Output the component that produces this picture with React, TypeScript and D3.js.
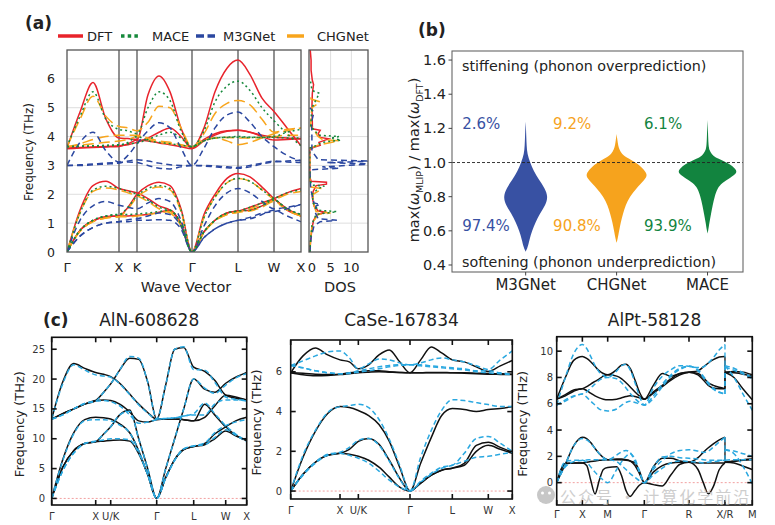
import React from "react";
import * as d3 from "d3";

const FONT = "DejaVu Sans, Verdana, sans-serif";

// ---------- (a) phonon bands, path Γ-X-K-Γ-L-W-X ----------
const kA = [0, 13, 26, 39, 52, 61, 70, 81, 92, 103, 114, 125, 137, 148, 160, 171, 183, 195, 207, 220, 234];
const symA = [0, 52, 70, 125, 171, 207, 234];
const symLabelsA = ["Γ", "X", "K", "Γ", "L", "W", "X"];

const bandsDFT = [
  [3.6, 4.85, 5.87, 4.6, 3.95, 3.93, 3.9, 5.45, 6.1, 5.55, 4.3, 3.6, 4.3, 5.55, 6.37, 6.65, 6.15, 5.33, 4.87, 4.3, 3.68],
  [3.6, 3.62, 3.64, 3.66, 3.68, 3.72, 3.8, 3.95, 4.15, 4.3, 4.0, 3.6, 3.9, 4.1, 4.2, 4.22, 4.15, 4.05, 3.98, 3.95, 3.93],
  [3.58, 3.6, 3.62, 3.64, 3.66, 3.75, 3.88, 3.85, 3.78, 3.72, 3.65, 3.58, 3.85, 4.05, 4.18, 4.22, 4.15, 4.0, 3.88, 3.9, 3.92],
  [0, 1.45, 2.3, 2.45, 2.2, 2.12, 2.05, 1.85, 1.6, 1.45, 1.0, 0, 1.3, 2.0, 2.55, 2.72, 2.6, 2.25, 1.85, 1.5, 1.25],
  [0, 0.75, 1.08, 1.22, 1.25, 1.55, 2.0, 2.3, 2.42, 2.3, 1.5, 0, 0.7, 1.1, 1.35, 1.42, 1.55, 1.7, 1.85, 2.05, 2.2],
  [0, 0.75, 1.08, 1.22, 1.25, 1.25, 1.27, 1.3, 1.38, 1.45, 0.95, 0, 0.7, 1.1, 1.35, 1.42, 1.45, 1.6, 1.8, 1.45, 1.25],
];
const bandsMACE = [
  [3.65, 4.7, 5.55, 4.6, 4.25, 4.2, 4.1, 5.0, 5.55, 5.25, 4.2, 3.65, 4.2, 5.2, 5.75, 5.92, 5.6, 5.0, 4.55, 4.1, 3.68],
  [3.65, 3.67, 3.68, 3.7, 3.72, 3.75, 3.78, 3.9, 4.05, 4.15, 3.95, 3.65, 3.85, 3.95, 3.98, 4.0, 3.98, 3.97, 4.0, 4.15, 4.25],
  [3.65, 3.66, 3.67, 3.68, 3.7, 3.8, 4.0, 3.85, 3.8, 3.75, 3.7, 3.65, 3.85, 3.95, 3.97, 3.98, 3.97, 3.97, 3.98, 3.95, 3.95],
  [0, 1.35, 2.15, 2.28, 2.2, 2.1, 2.0, 1.8, 1.55, 1.45, 1.0, 0, 1.2, 1.9, 2.4, 2.55, 2.45, 2.15, 1.85, 1.5, 1.3],
  [0, 0.75, 1.1, 1.25, 1.3, 1.55, 1.95, 2.2, 2.3, 2.2, 1.45, 0, 0.7, 1.1, 1.35, 1.42, 1.55, 1.7, 1.85, 2.05, 2.15],
  [0, 0.75, 1.1, 1.25, 1.3, 1.3, 1.32, 1.35, 1.4, 1.45, 0.95, 0, 0.7, 1.1, 1.35, 1.42, 1.45, 1.6, 1.8, 1.5, 1.3],
];
const bandsM3GNet = [
  [3.0, 3.8, 4.15, 3.5, 3.12, 3.35, 3.75, 4.2, 4.48, 4.3, 3.6, 3.0, 3.6, 4.3, 4.75, 4.85, 4.5, 4.0, 3.65, 3.35, 3.15],
  [3.0, 3.02, 3.05, 3.08, 3.1, 3.12, 3.1, 3.0, 2.9, 2.88, 2.95, 3.0, 2.98, 2.95, 2.92, 2.9, 2.95, 3.05, 3.12, 3.15, 3.18],
  [3.0, 3.0, 3.02, 3.05, 3.08, 3.15, 3.2, 3.15, 3.08, 3.02, 3.0, 3.0, 3.0, 2.98, 2.95, 2.93, 3.0, 3.08, 3.15, 3.12, 3.1],
  [0, 1.1, 1.6, 1.75, 1.62, 1.55, 1.5, 1.7, 1.85, 1.75, 1.1, 0, 0.9, 1.6, 2.05, 2.2, 2.05, 1.75, 1.5, 1.55, 1.65],
  [0, 0.55, 0.85, 1.0, 1.05, 1.12, 1.15, 1.25, 1.35, 1.3, 0.9, 0, 0.5, 0.8, 1.0, 1.1, 1.15, 1.3, 1.45, 1.25, 1.05],
  [0, 0.55, 0.85, 1.0, 1.05, 1.05, 1.1, 1.1, 1.12, 1.1, 0.8, 0, 0.5, 0.8, 1.0, 1.1, 1.2, 1.35, 1.4, 1.5, 1.65],
];
const bandsCHGNet = [
  [3.65, 4.6, 5.4, 4.7, 4.35, 4.3, 4.2, 4.5, 5.05, 5.0, 4.3, 3.65, 4.1, 4.8, 5.15, 5.25, 5.1, 4.6, 4.15, 4.25, 4.3],
  [3.65, 3.75, 3.9, 4.0, 4.05, 4.05, 4.05, 3.95, 3.85, 3.8, 3.72, 3.65, 3.9, 3.95, 3.85, 3.72, 3.8, 3.95, 4.1, 4.2, 4.3],
  [3.65, 3.7, 3.75, 3.8, 3.85, 3.9, 4.0, 3.9, 3.8, 3.75, 3.7, 3.65, 3.85, 3.95, 3.97, 3.95, 3.95, 3.98, 4.0, 4.05, 4.05],
  [0, 1.35, 2.1, 2.22, 2.15, 2.05, 1.95, 1.75, 1.5, 1.35, 0.95, 0, 1.2, 1.9, 2.4, 2.55, 2.45, 2.15, 1.8, 1.45, 1.25],
  [0, 0.72, 1.05, 1.18, 1.22, 1.5, 1.9, 2.15, 2.25, 2.15, 1.4, 0, 0.68, 1.08, 1.3, 1.38, 1.5, 1.65, 1.8, 2.0, 2.1],
  [0, 0.72, 1.05, 1.18, 1.22, 1.22, 1.25, 1.3, 1.35, 1.4, 0.9, 0, 0.68, 1.08, 1.3, 1.38, 1.42, 1.55, 1.75, 1.45, 1.25],
];

// DOS: [frequency THz, states]
const dosDFT = [[0, 0], [0.4, 0.2], [0.8, 0.5], [1.1, 0.9], [1.3, 1.8], [1.38, 4.0], [1.42, 2.0], [1.6, 1.0], [1.9, 0.6], [2.1, 0.8], [2.3, 1.5], [2.35, 4.0], [2.42, 4.0], [2.45, 0.3], [2.6, 0], [3.55, 0], [3.62, 0.8], [3.7, 2.5], [3.8, 2.2], [3.92, 4.5], [3.97, 2.5], [4.1, 2.0], [4.22, 2.5], [4.27, 0.6], [4.5, 0.6], [5.0, 0.5], [5.5, 0.6], [5.8, 0.9], [5.95, 0.6], [6.3, 0.3], [6.65, 0.3], [7, 0.1]];
const dosMACE = [[0, 0], [0.5, 0.2], [1.0, 0.6], [1.3, 1.5], [1.4, 6.5], [1.45, 2.0], [1.7, 0.8], [2.0, 0.6], [2.2, 2.0], [2.28, 3.5], [2.32, 0.5], [2.5, 0], [3.6, 0], [3.65, 1.0], [3.8, 3.0], [3.88, 7.5], [3.95, 5.0], [4.0, 7.0], [4.05, 2.0], [4.25, 1.0], [4.3, 0.2], [4.6, 0.3], [5.0, 0.5], [5.5, 2.3], [5.6, 0.5], [5.9, 0.2], [6.0, 0]];
const dosM3GNet = [[0, 0], [0.5, 0.3], [0.9, 1.0], [1.05, 2.5], [1.1, 6.5], [1.15, 2.0], [1.4, 1.2], [1.6, 1.5], [1.65, 2.5], [1.7, 1.0], [2.0, 0.5], [2.2, 0.2], [2.85, 0], [2.9, 7.0], [2.95, 3.0], [3.05, 15], [3.1, 4.0], [3.15, 15], [3.2, 2.0], [3.5, 0.5], [4.0, 0.5], [4.5, 0.4], [4.85, 1.0], [5.0, 0]];
const dosCHGNet = [[0, 0], [0.5, 0.2], [1.0, 0.6], [1.3, 2.0], [1.35, 5.0], [1.4, 1.5], [1.7, 0.8], [2.0, 0.8], [2.15, 2.5], [2.2, 3.0], [2.25, 0.3], [2.4, 0], [3.6, 0], [3.7, 2.0], [3.85, 7.0], [3.9, 3.0], [4.0, 2.0], [4.1, 1.5], [4.3, 1.0], [4.35, 0.2], [4.7, 0.3], [5.0, 0.5], [5.2, 2.5], [5.3, 0.3], [5.5, 0]];

const modelNamesA = ["DFT", "MACE", "M3GNet", "CHGNet"];
const modelColorsA = ["#e8232b", "#16893b", "#2b47a0", "#f8a51c"];
const modelDashA = ["", "2,3", "6,4", "11,5"];
const legendDashA = ["", "3.5,3.2", "8,3.5", ""];

// ---------- (b) violins ----------
const violinNames = ["M3GNet", "CHGNet", "MACE"];
const violinColors = ["#3851a3", "#f6a31d", "#12843f"];
const overPct = ["2.6%", "9.2%", "6.1%"];
const underPct = ["97.4%", "90.8%", "93.9%"];
const ratioM3GNet = [0.478, 0.5, 0.55, 0.6, 0.65, 0.7, 0.75, 0.8, 0.85, 0.9, 0.95, 1.0, 1.05, 1.1, 1.15, 1.2, 1.239];
const densM3GNet = [0, 0.06, 0.12, 0.2, 0.31, 0.44, 0.62, 0.7, 0.6, 0.41, 0.25, 0.14, 0.05, 0.03, 0.02, 0.01, 0];
const ratioCHGNet = [0.53, 0.55, 0.6, 0.65, 0.7, 0.75, 0.8, 0.85, 0.9, 0.93, 0.97, 1.0, 1.03, 1.05, 1.08, 1.1, 1.13, 1.167];
const densCHGNet = [0, 0.03, 0.08, 0.13, 0.2, 0.28, 0.41, 0.62, 0.88, 0.98, 0.8, 0.6, 0.31, 0.16, 0.08, 0.05, 0.025, 0];
const ratioMACE = [0.585, 0.6, 0.65, 0.7, 0.75, 0.8, 0.85, 0.88, 0.91, 0.94, 0.97, 1.0, 1.02, 1.04, 1.07, 1.1, 1.15, 1.2, 1.249];
const densMACE = [0, 0.02, 0.06, 0.11, 0.16, 0.22, 0.31, 0.45, 0.7, 0.95, 0.85, 0.6, 0.36, 0.16, 0.06, 0.03, 0.02, 0.01, 0];
const yTicksB = [0.4, 0.6, 0.8, 1.0, 1.2, 1.4, 1.6];

// ---------- (c) AlN-608628 ----------
const kAlN = [0, 11, 22, 33, 44, 52, 59, 68, 78, 87, 96, 105, 114, 123, 132, 142, 153, 163, 174, 184, 195];
const symAlN = [0, 44, 59, 105, 142, 174, 195];
const symLabelsAlN = ["Γ", "X", "U/K", "Γ", "L", "W", "X"];
const alnDFT = [
  [13.3, 19.5, 22.6, 21.8, 21.1, 20.8, 20.4, 19.3, 17.5, 15.8, 14.4, 13.3, 19.0, 25.0, 25.3, 22.0, 21.3, 19.8, 17.3, 16.8, 16.5],
  [13.3, 14.2, 15.0, 15.8, 16.4, 17.8, 19.2, 21.5, 23.5, 23.3, 19.5, 13.3, 13.3, 13.3, 13.2, 13.0, 15.8, 14.0, 12.0, 10.6, 9.7],
  [13.3, 14.2, 15.0, 15.8, 16.4, 16.5, 16.4, 15.8, 14.5, 13.0, 12.8, 13.2, 13.3, 13.3, 13.2, 13.0, 13.6, 15.5, 17.3, 17.0, 16.5],
  [0, 6.5, 11.0, 13.2, 13.6, 13.5, 13.3, 12.5, 11.0, 8.0, 4.0, 0, 5.0, 10.0, 15.0, 20.0, 18.3, 17.8, 19.3, 20.3, 21.1],
  [0, 5.2, 8.0, 9.2, 9.5, 10.8, 12.0, 14.0, 14.8, 10.0, 5.0, 0, 3.5, 6.5, 8.2, 8.7, 9.2, 10.8, 12.0, 13.0, 13.6],
  [0, 5.2, 8.0, 9.2, 9.5, 9.6, 9.7, 9.8, 9.6, 7.5, 4.0, 0, 3.5, 6.5, 8.2, 8.7, 9.0, 10.0, 11.3, 10.5, 9.7],
];
const alnMLIP = [
  [13.3, 19.2, 22.4, 21.5, 20.7, 20.5, 20.3, 19.2, 17.4, 15.7, 14.3, 13.3, 19.0, 25.0, 25.4, 21.6, 21.5, 19.5, 17.0, 16.6, 16.4],
  [13.3, 14.0, 15.0, 15.9, 16.3, 17.8, 19.2, 21.5, 23.8, 23.5, 19.5, 13.3, 13.4, 13.5, 13.8, 14.2, 16.0, 14.2, 12.2, 10.8, 9.6],
  [13.3, 14.0, 15.0, 15.9, 16.3, 16.4, 16.2, 15.5, 14.0, 12.6, 12.8, 13.2, 13.4, 13.5, 13.8, 14.0, 14.0, 15.8, 16.5, 16.5, 16.3],
  [0, 6.3, 10.8, 13.0, 13.2, 13.2, 13.0, 12.3, 11.0, 8.0, 4.0, 0, 5.0, 10.0, 15.0, 20.0, 18.5, 17.6, 19.0, 20.2, 20.9],
  [0, 4.6, 7.6, 9.2, 9.6, 10.8, 12.0, 14.0, 14.6, 10.0, 5.0, 0, 3.4, 6.4, 8.3, 8.8, 9.3, 11.0, 12.2, 12.8, 13.2],
  [0, 4.6, 7.6, 9.2, 9.6, 9.8, 10.0, 10.0, 9.8, 7.6, 4.0, 0, 3.4, 6.4, 8.3, 8.8, 9.0, 10.2, 11.5, 10.6, 9.5],
];
const yTicksAlN = [0, 5, 10, 15, 20, 25];

// ---------- (c) CaSe-167834 ----------
const kCaSe = [0, 37, 74, 111, 148, 176, 203, 234, 265, 296, 327, 358, 390, 422, 453, 485, 521, 557, 593, 629, 665];
const symCaSe = [0, 148, 203, 358, 485, 593, 665];
const symLabelsCaSe = ["Γ", "X", "U/K", "Γ", "L", "W", "X"];
const caseDFT = [
  [5.95, 6.8, 7.2, 6.85, 6.6, 6.5, 6.15, 6.35, 6.85, 7.1, 6.5, 5.95, 6.6, 7.25, 6.95, 6.6, 6.5, 6.25, 6.02, 6.3, 6.57],
  [5.95, 5.85, 5.8, 5.82, 5.88, 5.95, 6.0, 6.05, 6.05, 6.0, 5.97, 5.95, 5.95, 5.97, 5.97, 5.95, 5.95, 5.93, 5.92, 5.9, 5.88],
  [5.95, 5.93, 5.88, 5.86, 5.86, 5.9, 5.95, 5.98, 6.0, 5.98, 5.96, 5.95, 5.95, 5.95, 5.95, 5.95, 5.93, 5.9, 5.88, 5.87, 5.86],
  [0, 1.7, 3.0, 3.9, 4.25, 4.2, 4.05, 3.8, 3.35, 2.5, 1.2, 0, 1.4, 2.7, 3.8, 4.15, 4.1, 4.0, 4.1, 4.15, 4.25],
  [0, 0.85, 1.45, 1.8, 1.9, 2.1, 2.5, 2.65, 2.35, 1.55, 0.64, 0, 0.4, 0.8, 1.05, 1.15, 1.4, 2.3, 2.45, 2.2, 1.95],
  [0, 0.85, 1.45, 1.8, 1.9, 1.85, 1.75, 1.55, 1.2, 0.7, 0.2, 0, 0.4, 0.8, 1.05, 1.15, 1.3, 2.0, 2.3, 2.1, 1.9],
];
const caseMLIP = [
  [6.32, 6.55, 6.8, 7.0, 7.05, 6.7, 6.15, 6.4, 6.65, 6.6, 6.45, 6.35, 6.45, 6.6, 6.7, 6.6, 6.5, 6.3, 6.12, 6.6, 7.05],
  [6.32, 6.2, 6.05, 5.95, 5.9, 5.95, 6.05, 6.15, 6.25, 6.32, 6.35, 6.35, 6.35, 6.3, 6.25, 6.2, 6.15, 6.05, 6.05, 5.95, 5.88],
  [6.32, 6.2, 6.05, 5.95, 5.9, 5.92, 5.98, 6.05, 6.15, 6.25, 6.32, 6.35, 6.3, 6.25, 6.2, 6.15, 6.1, 6.0, 5.95, 5.9, 5.85],
  [0, 1.8, 3.05, 3.95, 4.25, 4.3, 4.37, 4.2, 3.6, 2.6, 1.3, 0, 1.7, 3.06, 4.06, 4.6, 4.55, 4.45, 4.35, 4.25, 4.25],
  [0, 0.85, 1.45, 1.85, 1.95, 2.2, 2.55, 2.65, 2.3, 1.5, 0.6, 0, 0.5, 0.9, 1.2, 1.3, 1.9, 2.65, 2.75, 2.4, 2.0],
  [0, 0.8, 1.4, 1.8, 1.9, 1.8, 1.65, 1.4, 1.0, 0.55, 0.2, 0, 0.45, 0.85, 1.15, 1.3, 1.5, 1.7, 1.75, 1.85, 1.95],
];
const yTicksCaSe = [0, 2, 4, 6];

// ---------- (c) AlPt-58128: Γ-X-M-Γ-R-X | R-M ----------
const kAlPt = [0, 26, 51, 77, 90, 102, 115, 128, 140, 153, 180, 195, 208, 220, 235, 248, 263, 290, 317, 343, 370, 397, 424, 440, 455, 470, 488, 505];
const kAlPtRM = [505, 532, 560, 587];
const symAlPt = [0, 77, 153, 263, 397, 505, 587];
const symLabelsAlPt = ["Γ", "X", "M", "Γ", "R", "X/R", "M"];
const alptDFT = [
  [6.35, 8.0, 9.3, 9.6, 9.45, 9.2, 8.85, 8.5, 8.3, 8.2, 8.6, 8.95, 9.0, 8.7, 7.8, 6.9, 6.35, 7.4, 8.3, 8.1, 8.3, 8.4, 8.5, 8.8, 9.1, 9.35, 9.55, 9.6],
  [6.35, 6.7, 7.05, 7.15, 7.3, 7.5, 7.7, 7.9, 8.1, 8.2, 8.1, 7.9, 7.6, 7.3, 6.9, 6.6, 6.35, 6.9, 7.4, 7.9, 8.3, 8.4, 8.3, 8.0, 7.6, 7.4, 7.25, 7.15],
  [6.35, 6.6, 6.95, 7.15, 7.0, 6.8, 6.6, 6.45, 6.35, 6.3, 6.35, 6.45, 6.55, 6.6, 6.55, 6.45, 6.35, 6.8, 7.3, 7.8, 8.2, 8.4, 8.2, 7.8, 7.4, 7.2, 7.15, 7.15],
  [0, 1.4, 2.8, 3.45, 3.35, 3.05, 2.6, 2.2, 1.9, 1.75, 1.75, 1.72, 1.7, 1.65, 1.5, 0.9, 0, 1.2, 1.85, 1.85, 1.65, 1.55, 1.9, 2.3, 2.65, 2.95, 3.25, 3.45],
  [0, 1.45, 1.5, 1.5, 1.3, 0.2, -0.86, 0.2, 1.0, 1.15, 1.2, 0.5, -0.6, -1.05, -0.6, -0.2, 0, -0.15, -0.25, 0.6, 1.4, 1.55, 1.0, 0.0, -0.85, -0.3, 1.0, 1.5],
  [0, 1.45, 1.5, 1.5, 1.55, 1.6, 1.65, 1.7, 1.72, 1.75, 1.8, 1.8, 1.75, 1.65, 1.3, 0.7, 0, 0.8, 1.3, 1.5, 1.55, 1.55, 1.5, 1.5, 1.5, 1.5, 1.5, 1.5],
];
const alptDFTRM = [
  [8.4, 8.35, 8.25, 8.1],
  [8.4, 8.0, 7.1, 6.3],
  [8.4, 8.45, 8.4, 8.2],
  [1.55, 1.65, 1.7, 1.75],
  [1.55, 1.5, 1.25, 1.0],
  [1.55, 1.6, 1.75, 1.8],
];
const alptMLIP = [
  [5.9, 8.0, 9.8, 10.5, 10.2, 9.6, 8.9, 8.4, 8.15, 8.0, 8.5, 8.9, 9.0, 8.6, 7.6, 6.6, 5.9, 7.2, 8.1, 8.6, 8.9, 8.85, 8.75, 8.8, 9.1, 9.5, 10.1, 10.5],
  [5.9, 6.3, 6.6, 6.75, 6.9, 7.2, 7.5, 7.8, 7.95, 8.0, 7.9, 7.6, 7.2, 6.8, 6.4, 6.1, 5.9, 6.6, 7.5, 8.2, 8.7, 8.85, 8.6, 8.1, 7.6, 7.2, 6.9, 6.75],
  [5.9, 6.2, 6.55, 6.75, 6.5, 6.2, 5.9, 5.6, 5.5, 5.45, 5.6, 5.9, 6.1, 6.2, 6.1, 6.0, 5.9, 6.4, 7.3, 8.1, 8.6, 8.85, 8.5, 8.0, 7.5, 7.1, 6.85, 6.75],
  [0, 1.4, 2.8, 3.35, 3.25, 3.0, 2.6, 2.2, 1.9, 1.75, 2.1, 2.35, 2.45, 2.3, 1.6, 0.8, 0, 1.0, 1.7, 2.2, 2.45, 2.5, 2.4, 2.3, 2.4, 2.7, 3.1, 3.45],
  [0, 1.6, 1.7, 1.7, 1.55, 1.2, 0.8, 0.45, 0.2, 0.0, 1.0, 1.6, 2.0, 2.2, 1.8, 0.9, 0, 1.2, 1.95, 2.0, 1.9, 1.85, 1.8, 1.75, 1.7, 1.7, 1.7, 1.7],
  [0, 1.2, 1.6, 1.7, 1.72, 1.75, 1.75, 1.75, 1.75, 1.75, 1.6, 1.3, 1.0, 0.7, 0.4, 0.15, 0, 0.6, 1.1, 1.5, 1.65, 1.6, 1.55, 1.5, 1.55, 1.6, 1.65, 1.7],
];
const alptMLIPRM = [
  [8.9, 8.7, 8.35, 8.0],
  [8.8, 8.55, 8.25, 7.9],
  [8.9, 8.0, 6.7, 5.5],
  [2.5, 2.4, 2.2, 2.0],
  [2.5, 2.2, 1.2, -0.1],
  [1.7, 1.75, 1.75, 1.75],
];
const yTicksAlPt = [0, 2, 4, 6, 8, 10];

const BLACK = "#111";
const CYAN = "#2aa8e0";

type Seg = { ks: number[]; black: number[][]; cyan: number[][] };

function BandPanel(props: {
  left: number; right: number; top: number; bottom: number;
  kDomain: [number, number]; yDomain: [number, number];
  segs: Seg[]; sym: number[]; symLabels: string[]; yTicks: number[];
  tickLabelX: number; symLabelY: number; title: string; titleY: number;
  freqX: number;
}) {
  const { left, right, top, bottom, segs, sym, symLabels, yTicks } = props;
  const x = d3.scaleLinear().domain(props.kDomain).range([left, right]);
  const y = d3.scaleLinear().domain(props.yDomain).range([bottom, top]);
  const clipId = "clip" + props.title.replace(/[^A-Za-z0-9]/g, "");
  const drawSet = (key: "black" | "cyan", color: string, dash: string) => (
    <g>
      {segs.map((s, si) =>
        s[key].map((b, bi) => {
          const line = d3.line<number>().x((_, i) => x(s.ks[i])).y((v) => y(v)).curve(d3.curveMonotoneX);
          return <path key={key + si + "-" + bi} d={line(b) ?? ""} fill="none" stroke={color} strokeWidth={1.5} strokeDasharray={dash} />;
        })
      )}
      {segs.slice(1).map((s, si) =>
        s[key].map((b, bi) => {
          const prev = segs[si];
          const xe = x(s.ks[0]);
          return <line key={"c" + key + si + bi} x1={xe} x2={xe} y1={y(prev[key][bi][prev[key][bi].length - 1])} y2={y(b[0])} stroke={color} strokeWidth={1.3} strokeDasharray={dash} />;
        })
      )}
    </g>
  );
  return (
    <g fontFamily={FONT}>
      <defs>
        <clipPath id={clipId}>
          <rect x={left} y={top} width={right - left} height={bottom - top} />
        </clipPath>
      </defs>
      <text x={(left + right) / 2} y={props.titleY} textAnchor="middle" fontSize={17} fill="#222">{props.title}</text>
      <text transform={`translate(${props.freqX},${(top + bottom) / 2 + 3}) rotate(-90)`} textAnchor="middle" fontSize={13} fill="#222">Frequency (THz)</text>
      <g clipPath={`url(#${clipId})`}>
        <line x1={left} x2={right} y1={y(0)} y2={y(0)} stroke="#f2a0a0" strokeWidth={1} strokeDasharray="2,2" />
        {drawSet("black", BLACK, "")}
        {drawSet("cyan", CYAN, "5,3")}
      </g>
      <rect x={left} y={top} width={right - left} height={bottom - top} fill="none" stroke="#111" strokeWidth={1.6} />
      {sym.map((k, i) => (
        <g key={"s" + i}>
          <line x1={x(k)} x2={x(k)} y1={top} y2={top + 5} stroke="#111" strokeWidth={1.6} />
          <line x1={x(k)} x2={x(k)} y1={bottom} y2={bottom - 5} stroke="#111" strokeWidth={1.6} />
          <text x={x(k)} y={props.symLabelY} textAnchor="middle" fontSize={10} fill="#333">{symLabels[i]}</text>
        </g>
      ))}
      {yTicks.map((t) => (
        <g key={"y" + t}>
          <line x1={left} x2={left + 5} y1={y(t)} y2={y(t)} stroke="#111" strokeWidth={1.6} />
          <line x1={right} x2={right - 5} y1={y(t)} y2={y(t)} stroke="#111" strokeWidth={1.6} />
          <text x={props.tickLabelX} y={y(t) + 3.5} textAnchor="end" fontSize={10} fill="#333">{t}</text>
        </g>
      ))}
    </g>
  );
}

function PanelA() {
  const x = d3.scaleLinear().domain([0, 234]).range([67, 301]);
  const y = d3.scaleLinear().domain([0, 7]).range([252, 50]);
  const xd = d3.scaleLinear().domain([-0.2, 14]).range([309, 368]);
  const allBands = [bandsDFT, bandsMACE, bandsM3GNet, bandsCHGNet];
  const allDos = [dosDFT, dosMACE, dosM3GNet, dosCHGNet];
  const drawOrder = [0, 3, 2, 1];
  const line = d3.line<number>().x((_, i) => x(kA[i])).y((v) => y(v)).curve(d3.curveMonotoneX);
  const dline = d3.line<number[]>().x((d) => xd(d[1])).y((d) => y(d[0]));
  const legendLine = [[58, 83], [121, 140], [196, 215], [287, 304]];
  const legendText = [87, 152, 223, 317];
  const yTicks = [0, 1, 2, 3, 4, 5, 6];
  return (
    <g fontFamily={FONT} fill="#222">
      <defs>
        <clipPath id="clipA"><rect x={67} y={50} width={234} height={202} /></clipPath>
        <clipPath id="clipDos"><rect x={309} y={50} width={59} height={202} /></clipPath>
      </defs>
      <text x={25} y={29} fontSize={17} fontWeight="bold">(a)</text>
      {modelNamesA.map((n, i) => (
        <g key={n}>
          <line x1={legendLine[i][0]} x2={legendLine[i][1]} y1={36} y2={36} stroke={modelColorsA[i]} strokeWidth={3.5} strokeDasharray={legendDashA[i]} />
          <text x={legendText[i]} y={40.5} fontSize={13}>{n}</text>
        </g>
      ))}
      {yTicks.slice(1).map((t) => (
        <g key={t}>
          <line x1={67} x2={301} y1={y(t)} y2={y(t)} stroke="#dedede" strokeWidth={1} />
          <line x1={309} x2={368} y1={y(t)} y2={y(t)} stroke="#dedede" strokeWidth={1} />
        </g>
      ))}
      {[5, 10].map((t) => (
        <line key={"dg" + t} x1={xd(t)} x2={xd(t)} y1={50} y2={252} stroke="#dedede" strokeWidth={1} />
      ))}
      {symA.slice(1, -1).map((k, i) => (
        <line key={"v" + i} x1={x(k)} x2={x(k)} y1={50} y2={252} stroke="#555" strokeWidth={1.3} />
      ))}
      <g clipPath="url(#clipA)">
        {drawOrder.map((m) =>
          allBands[m].map((b, bi) => (
            <path key={m + "-" + bi} d={line(b) ?? ""} fill="none" stroke={modelColorsA[m]} strokeWidth={1.5} strokeDasharray={modelDashA[m]} />
          ))
        )}
      </g>
      <g clipPath="url(#clipDos)">
        {drawOrder.map((m) => (
          <path key={"dos" + m} d={dline(allDos[m]) ?? ""} fill="none" stroke={modelColorsA[m]} strokeWidth={1.5} strokeDasharray={modelDashA[m]} />
        ))}
      </g>
      <rect x={67} y={50} width={234} height={202} fill="none" stroke="#555" strokeWidth={1.3} />
      <rect x={309} y={50} width={59} height={202} fill="none" stroke="#555" strokeWidth={1.3} />
      {yTicks.map((t) => (
        <text key={"yt" + t} x={55} y={y(t) + 4.5} textAnchor="end" fontSize={12.5}>{t}</text>
      ))}
      {symA.map((k, i) => (
        <text key={"xl" + i} x={x(k)} y={272} textAnchor="middle" fontSize={13}>{symLabelsA[i]}</text>
      ))}
      {[0, 5, 10].map((t) => (
        <text key={"dt" + t} x={xd(t) + (t === 0 ? 2 : 0)} y={272} textAnchor="middle" fontSize={13}>{t}</text>
      ))}
      <text x={186} y={292} textAnchor="middle" fontSize={14.5}>Wave Vector</text>
      <text x={340} y={292} textAnchor="middle" fontSize={14.5}>DOS</text>
      <text transform="translate(33,152) rotate(-90)" textAnchor="middle" fontSize={12}>Frequency (THz)</text>
    </g>
  );
}

function PanelB() {
  const x = d3.scaleLinear().domain([-0.81, 2.39]).range([452, 743]);
  const y = d3.scaleLinear().domain([0.359, 1.653]).range([272, 51]);
  const ratios = [ratioM3GNet, ratioCHGNet, ratioMACE];
  const dens = [densM3GNet, densCHGNet, densMACE];
  const maxHalf = 32;
  return (
    <g fontFamily={FONT} fill="#222">
      <text x={418} y={36} fontSize={17} fontWeight="bold">(b)</text>
      {violinNames.map((n, i) => {
        const cx = x(i);
        const area = d3
          .area<number>()
          .y((_, j) => y(ratios[i][j]))
          .x0((d) => cx - d * maxHalf)
          .x1((d) => cx + d * maxHalf)
          .curve(d3.curveBasis);
        return <path key={n} d={area(dens[i]) ?? ""} fill={violinColors[i]} />;
      })}
      <line x1={452} x2={743} y1={y(1)} y2={y(1)} stroke="#222" strokeWidth={0.9} strokeDasharray="3,2" />
      <rect x={452} y={51} width={291} height={221} fill="none" stroke="#666" strokeWidth={1.1} />
      {yTicksB.map((t) => (
        <g key={t}>
          <line x1={448.5} x2={452} y1={y(t)} y2={y(t)} stroke="#444" />
          <text x={446} y={y(t) + 5} textAnchor="end" fontSize={14.5}>{t.toFixed(1)}</text>
        </g>
      ))}
      {violinNames.map((n, i) => (
        <g key={"l" + n}>
          <line x1={x(i)} x2={x(i)} y1={272} y2={275.5} stroke="#444" />
          <text x={x(i)} y={290} textAnchor="middle" fontSize={15}>{n}</text>
          <text x={x(i) - 63.5} y={128.5} fontSize={15} fill={violinColors[i]}>{overPct[i]}</text>
          <text x={x(i) - 63.5} y={231} fontSize={15} fill={violinColors[i]}>{underPct[i]}</text>
        </g>
      ))}
      <text x={462} y={71} fontSize={14.3}>stiffening (phonon overprediction)</text>
      <text x={462} y={267} fontSize={14.3}>softening (phonon underprediction)</text>
      <text transform="translate(419,160) rotate(-90)" textAnchor="middle" fontSize={14.5}>
        max(<tspan fontStyle="italic">ω</tspan>
        <tspan fontSize={9.5} dy={4}>MLIP</tspan>
        <tspan dy={-4}>) / max(</tspan>
        <tspan fontStyle="italic">ω</tspan>
        <tspan fontSize={9.5} dy={4}>DFT</tspan>
        <tspan dy={-4}>)</tspan>
      </text>
    </g>
  );
}

export default function App() {
  return (
    <svg width={775} height={525} viewBox="0 0 775 525" style={{ position: "absolute", left: 0, top: 0, background: "#fff" }}>
      <rect width={775} height={525} fill="#fff" />
      <PanelA />
      <PanelB />
      <text x={43} y={326} fontFamily={FONT} fontSize={17} fontWeight="bold" fill="#222">(c)</text>
      <BandPanel
        left={51.7} right={246.7} top={337.3} bottom={505}
        kDomain={[0, 195]} yDomain={[-1.1, 27]}
        segs={[{ ks: kAlN, black: alnDFT, cyan: alnMLIP }]}
        sym={symAlN} symLabels={symLabelsAlN} yTicks={yTicksAlN}
        tickLabelX={45} symLabelY={520} title="AlN-608628" titleY={326} freqX={24}
      />
      <BandPanel
        left={290.7} right={512.3} top={340} bottom={499}
        kDomain={[0, 665]} yDomain={[-0.4, 7.6]}
        segs={[{ ks: kCaSe, black: caseDFT, cyan: caseMLIP }]}
        sym={symCaSe} symLabels={symLabelsCaSe} yTicks={yTicksCaSe}
        tickLabelX={282} symLabelY={514} title="CaSe-167834" titleY={326} freqX={261}
      />
      <BandPanel
        left={556.7} right={752.3} top={336.7} bottom={505}
        kDomain={[0, 587]} yDomain={[-1.7, 11.1]}
        segs={[
          { ks: kAlPt, black: alptDFT, cyan: alptMLIP },
          { ks: kAlPtRM, black: alptDFTRM, cyan: alptMLIPRM },
        ]}
        sym={symAlPt} symLabels={symLabelsAlPt} yTicks={yTicksAlPt}
        tickLabelX={553} symLabelY={518} title="AlPt-58128" titleY={326} freqX={527}
      />
      <g opacity={0.75}>
        <circle cx={546} cy={495} r={9} fill="#b5b5b5" />
        <circle cx={542.5} cy={493} r={1.5} fill="#fff" />
        <circle cx={549.5} cy={493} r={1.5} fill="#fff" />
        <text x={560} y={503} fontFamily="Noto Sans CJK SC" fontSize={16} letterSpacing={2} fill="#bdbdbd">公众号 · 计算化学前沿</text>
      </g>
    </svg>
  );
}
